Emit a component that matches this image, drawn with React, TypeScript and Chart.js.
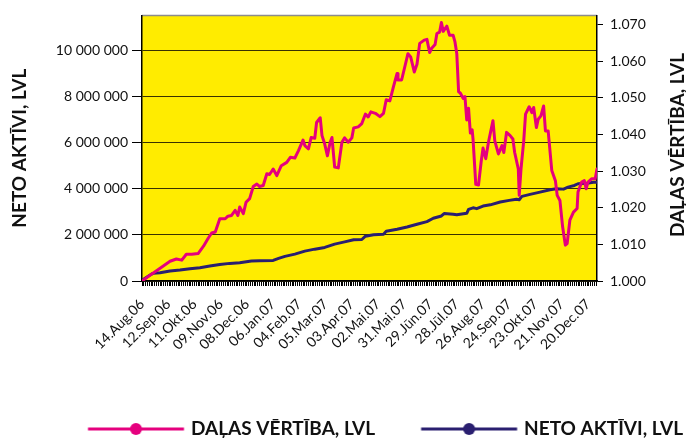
import React, { useEffect, useRef } from 'react';
import { Chart, registerables } from 'chart.js';

Chart.register(...registerables);

// ---------- data ----------
const seriesNames = ['DAĻAS VĒRTĪBA, LVL', 'NETO AKTĪVI, LVL'];
const leftAxisTitle = 'NETO AKTĪVI, LVL';
const rightAxisTitle = 'DAĻAS VĒRTĪBA, LVL';

// day index 0 = 14.Aug.06
const xTickLabels = [
  '14.Aug.06', '12.Sep.06', '11.Okt.06', '09.Nov.06', '08.Dec.06', '06.Jan.07',
  '04.Feb.07', '05.Mar.07', '03.Apr.07', '02.Mai.07', '31.Mai.07', '29.Jūn.07',
  '28.Jūl.07', '26.Aug.07', '24.Sep.07', '23.Okt.07', '21.Nov.07', '20.Dec.07',
];
const tickEvery = 29;
const lastDay = 503;

const leftTicks = [0, 2000000, 4000000, 6000000, 8000000, 10000000];
const rightTicks = [1.0, 1.01, 1.02, 1.03, 1.04, 1.05, 1.06, 1.07];

const pinkDays = [
  0, 9, 20, 31, 38, 44, 49, 55, 62, 68,
  73, 77, 81, 86, 92, 95, 99, 103, 106, 108,
  112, 115, 119, 123, 127, 130, 134, 138, 141, 145,
  149, 154, 160, 164, 169, 173, 178, 180, 184, 187,
  191, 193, 197, 199, 202, 205, 208, 210, 213, 217,
  221, 224, 228, 232, 234, 239, 243, 247, 250, 253,
  258, 263, 267, 270, 274, 278, 282, 283, 287, 291,
  294, 297, 301, 304, 307, 312, 315, 318, 320, 324,
  326, 329, 331, 333, 337, 340, 344, 346, 348, 350,
  352, 355, 357, 359, 361, 363, 365, 366, 369, 372,
  375, 377, 380, 383, 388, 390, 394, 398, 400, 403,
  407, 410, 412, 416, 417, 419, 422, 424, 428, 431,
  433, 436, 438, 441, 444, 446, 449, 453, 457, 459,
  462, 465, 468, 470, 473, 477, 481, 482, 486, 489,
  491, 493, 497, 501, 503,
];
const pinkValues = [
  1.0000, 1.0016, 1.0035, 1.0054, 1.0060, 1.0057, 1.0073, 1.0073, 1.0075, 1.0095,
  1.0116, 1.0131, 1.0134, 1.0170, 1.0170, 1.0177, 1.0179, 1.0193, 1.0179, 1.0202,
  1.0184, 1.0215, 1.0225, 1.0258, 1.0265, 1.0258, 1.0261, 1.0293, 1.0291, 1.0306,
  1.0288, 1.0315, 1.0324, 1.0338, 1.0336, 1.0356, 1.0385, 1.0370, 1.0361, 1.0392,
  1.0390, 1.0433, 1.0446, 1.0397, 1.0374, 1.0342, 1.0379, 1.0392, 1.0311, 1.0309,
  1.0379, 1.0391, 1.0379, 1.0391, 1.0418, 1.0421, 1.0430, 1.0456, 1.0448, 1.0462,
  1.0458, 1.0449, 1.0458, 1.0495, 1.0492, 1.0531, 1.0567, 1.0549, 1.0549, 1.0590,
  1.0621, 1.0612, 1.0571, 1.0592, 1.0649, 1.0658, 1.0660, 1.0624, 1.0635, 1.0646,
  1.0676, 1.0680, 1.0706, 1.0682, 1.0696, 1.0671, 1.0671, 1.0653, 1.0621, 1.0517,
  1.0513, 1.0499, 1.0504, 1.0440, 1.0472, 1.0404, 1.0413, 1.0386, 1.0264, 1.0262,
  1.0327, 1.0363, 1.0334, 1.0379, 1.0438, 1.0383, 1.0347, 1.0370, 1.0351, 1.0406,
  1.0397, 1.0388, 1.0351, 1.0306, 1.0234, 1.0306, 1.0383, 1.0456, 1.0476, 1.0460,
  1.0474, 1.0419, 1.0442, 1.0451, 1.0478, 1.0410, 1.0410, 1.0302, 1.0274, 1.0234,
  1.0220, 1.0148, 1.0098, 1.0102, 1.0166, 1.0188, 1.0198, 1.0243, 1.0270, 1.0274,
  1.0252, 1.0270, 1.0279, 1.0279, 1.0306,
];

const blueDays = [
  0, 9, 12, 20, 31, 42, 53, 64, 75, 86,
  97, 108, 121, 130, 145, 151, 158, 169, 180, 191,
  202, 213, 224, 234, 243, 247, 256, 267, 270, 282,
  293, 304, 315, 322, 331, 334, 344, 348, 359, 361,
  366, 370, 377, 385, 396, 406, 414, 417, 420, 429,
  440, 451, 458, 466, 471, 478, 482, 492, 499, 503,
];
const blueValues = [
  30000, 260000, 330000, 360000, 430000, 474000, 530000, 573000, 647000, 711000,
  763000, 789000, 862000, 875000, 892000, 978000, 1065000, 1164000, 1293000, 1379000,
  1453000, 1595000, 1694000, 1789000, 1797000, 1940000, 2004000, 2026000, 2155000, 2241000,
  2340000, 2457000, 2573000, 2716000, 2815000, 2918000, 2888000, 2866000, 2931000, 3103000,
  3168000, 3133000, 3246000, 3297000, 3418000, 3491000, 3543000, 3521000, 3664000, 3750000,
  3849000, 3953000, 3996000, 3978000, 4065000, 4138000, 4211000, 4237000, 4280000, 4280000,
];

// ---------- styles ----------
const W = 686;
const H = 438;
const PINK = '#E5007E';
const BLUE = '#2A1F70';
const YELLOW = '#FFEC00';
const TEXT = '#111111';
const FAMILY = 'Lato, "Open Sans", sans-serif';
const TITLE_SIZE = 19;
const TICK_SIZE = 14;
const LEG_PAD = 3;
const LEG_TEXT1_X = 191;
const LEG_TEXT_Y = 429;
const PLOT_LEFT = 142;
const PLOT_RIGHT = 597;
const PLOT_TOP = 14;
const PLOT_BOTTOM = 281;

const fmtSpace = (v: number) => String(Math.round(v)).replace(/\B(?=(\d{3})+(?!\d))/g, ' ');

function makeLegendImage(color: string, offset: number) {
  const half = Math.ceil(Math.abs(offset) + 52);
  const c = document.createElement('canvas');
  c.width = half * 2;
  c.height = 18;
  const g = c.getContext('2d')!;
  const cx = half + offset;
  g.strokeStyle = color;
  g.lineWidth = 3;
  g.beginPath();
  g.moveTo(cx - 48, 9);
  g.lineTo(cx + 48, 9);
  g.stroke();
  g.fillStyle = color;
  g.beginPath();
  g.arc(cx, 9, 6, 0, Math.PI * 2);
  g.fill();
  return c;
}

const bgPlugin = {
  id: 'plotBg',
  beforeDraw(chart: any) {
    const { ctx, chartArea: a } = chart;
    ctx.save();
    ctx.fillStyle = YELLOW;
    ctx.fillRect(a.left, a.top, a.right - a.left, a.bottom - a.top);
    ctx.strokeStyle = '#8c8c8c';
    ctx.lineWidth = 1.5;
    ctx.beginPath();
    ctx.moveTo(a.left, a.top);
    ctx.lineTo(a.right, a.top);
    ctx.stroke();
    ctx.restore();
  },
};

const rightTitlePlugin = {
  id: 'rightTitle',
  afterDraw(chart: any) {
    const s = chart.scales.yRight;
    const ctx = chart.ctx;
    ctx.save();
    ctx.translate(s.right - 8, 145);
    ctx.rotate(-Math.PI / 2);
    ctx.font = `bold ${TITLE_SIZE}px ${FAMILY}`;
    ctx.fillStyle = TEXT;
    ctx.textAlign = 'center';
    ctx.textBaseline = 'middle';
    ctx.fillText(rightAxisTitle, 0, 0);
    ctx.restore();
  },
};

export default function App() {
  const ref = useRef<HTMLCanvasElement | null>(null);

  useEffect(() => {
    if (!ref.current) return;
    const legendFont = `bold ${TITLE_SIZE}px ${FAMILY}`;
    const mc = document.createElement('canvas').getContext('2d')!;
    mc.font = legendFont;
    const wa = mc.measureText(seriesNames[0]).width;
    const wb = mc.measureText(seriesNames[1]).width;
    const halfF = TITLE_SIZE / 2;
    const bw = W - halfF - wa - wb - 2 * LEG_PAD - LEG_TEXT1_X;
    const offset = bw / 2 - (55 - halfF);
    const imgPink = makeLegendImage(PINK, offset);
    const imgBlue = makeLegendImage(BLUE, offset);
    const legendHeight = H - (LEG_TEXT_Y - LEG_PAD - halfF);
    const xHeight = H - legendHeight - PLOT_BOTTOM;

    const chart = new Chart(ref.current, {
      type: 'line',
      data: {
        datasets: [
          {
            label: seriesNames[0],
            data: pinkDays.map((d, i) => ({ x: d, y: pinkValues[i] })),
            yAxisID: 'yRight',
            borderColor: PINK,
            backgroundColor: PINK,
            borderWidth: 3,
            pointRadius: 0,
            tension: 0,
            borderJoinStyle: 'round',
            borderCapStyle: 'round',
          },
          {
            label: seriesNames[1],
            data: blueDays.map((d, i) => ({ x: d, y: blueValues[i] })),
            yAxisID: 'yLeft',
            borderColor: BLUE,
            backgroundColor: BLUE,
            borderWidth: 3,
            pointRadius: 0,
            tension: 0,
            borderJoinStyle: 'round',
            borderCapStyle: 'round',
          },
        ],
      },
      options: {
        animation: false,
        responsive: true,
        maintainAspectRatio: false,
        layout: { padding: { top: PLOT_TOP, left: 0, right: 0, bottom: 0 } },
        plugins: {
          tooltip: { enabled: false },
          legend: {
            position: 'bottom',
            align: 'end',
            maxHeight: legendHeight,
            labels: {
              usePointStyle: true,
              pointStyleWidth: bw,
              padding: LEG_PAD,
              color: TEXT,
              font: { family: FAMILY, size: TITLE_SIZE, weight: 'bold' },
              generateLabels: () => [
                { text: seriesNames[0], pointStyle: imgPink as any, fillStyle: PINK, strokeStyle: PINK, lineWidth: 0, hidden: false, datasetIndex: 0, fontColor: TEXT },
                { text: seriesNames[1], pointStyle: imgBlue as any, fillStyle: BLUE, strokeStyle: BLUE, lineWidth: 0, hidden: false, datasetIndex: 1, fontColor: TEXT },
              ],
            },
          },
        },
        scales: {
          x: {
            type: 'linear',
            min: 0,
            max: lastDay,
            ticks: {
              stepSize: 1,
              autoSkip: false,
              minRotation: 45,
              maxRotation: 45,
              padding: 10,
              color: TEXT,
              font: { family: FAMILY, size: TICK_SIZE },
              callback: (v: any) => {
                const n = Number(v);
                if (n % tickEvery === 0) {
                  const k = n / tickEvery;
                  return xTickLabels[k] ?? '';
                }
                return '';
              },
            },
            grid: {
              drawOnChartArea: false,
              drawTicks: true,
              tickLength: 5,
              lineWidth: 1,
              tickColor: (ctx: any) => (ctx.tick && ctx.tick.value % 2 === 0 ? '#000' : 'rgba(0,0,0,0)'),
            },
            border: { display: true, color: '#000', width: 1.5 },
            afterFit: (s: any) => { s.height = xHeight; },
          },
          yLeft: {
            type: 'linear',
            position: 'left',
            min: 0,
            max: 11500000,
            afterBuildTicks: (s: any) => { s.ticks = leftTicks.map((v) => ({ value: v })); },
            ticks: {
              padding: 4,
              color: TEXT,
              font: { family: FAMILY, size: TICK_SIZE },
              callback: (v: any) => fmtSpace(Number(v)),
            },
            grid: {
              color: 'rgba(35,30,0,0.9)',
              lineWidth: 1,
              tickLength: 10,
              tickColor: '#000',
            },
            border: { display: true, color: '#000', width: 1.5 },
            title: {
              display: true,
              text: leftAxisTitle,
              color: TEXT,
              font: { family: FAMILY, size: TITLE_SIZE, weight: 'bold' },
              padding: { top: 8, bottom: 0 },
            },
            afterFit: (s: any) => { s.width = PLOT_LEFT; },
          },
          yRight: {
            type: 'linear',
            position: 'right',
            min: 1.0,
            max: 1.07255,
            afterBuildTicks: (s: any) => { s.ticks = rightTicks.map((v) => ({ value: v })); },
            ticks: {
              padding: 7,
              color: TEXT,
              font: { family: FAMILY, size: TICK_SIZE },
              callback: (v: any) => Number(v).toFixed(3),
            },
            grid: {
              drawOnChartArea: false,
              tickLength: 6,
              tickColor: '#000',
            },
            border: { display: true, color: '#000', width: 1.5 },
            afterFit: (s: any) => { s.width = W - PLOT_RIGHT; },
          },
        },
      },
      plugins: [bgPlugin, rightTitlePlugin],
    } as any);

    return () => chart.destroy();
  }, []);

  return (
    <div style={{ position: 'fixed', left: 0, top: 0, width: W, height: H, background: '#fff' }}>
      <canvas ref={ref} />
    </div>
  );
}
